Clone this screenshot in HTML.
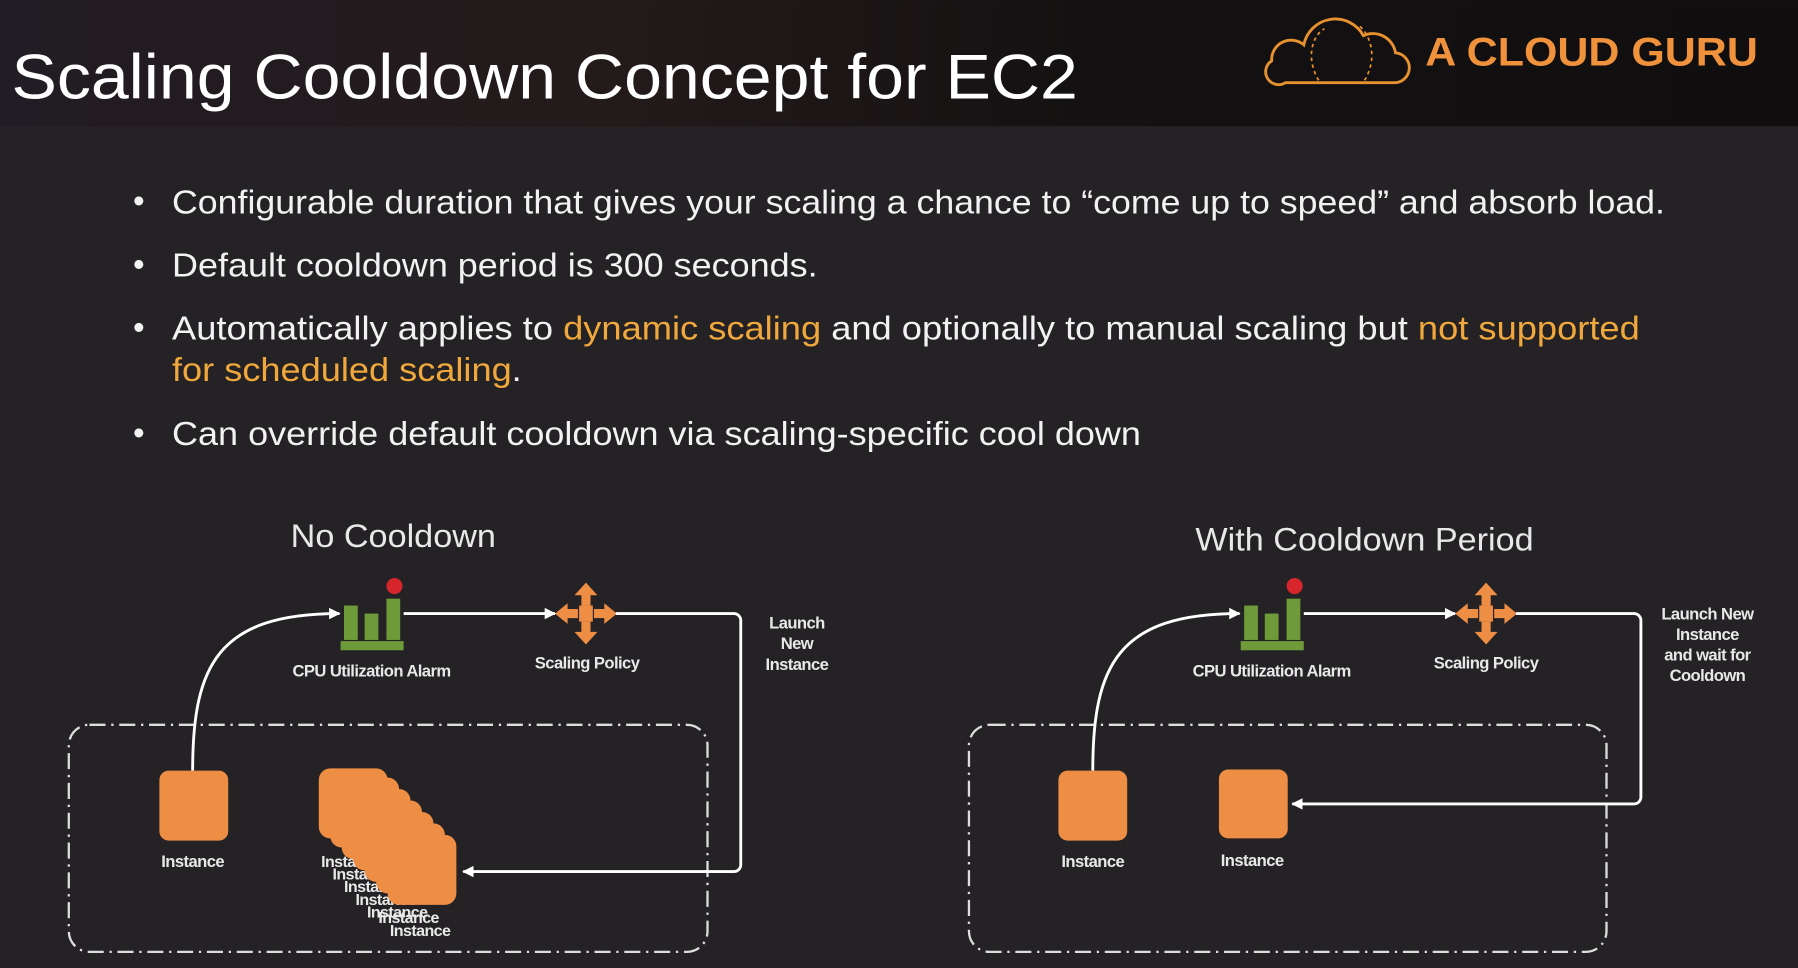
<!DOCTYPE html>
<html><head><meta charset="utf-8"><style>
html,body{margin:0;padding:0;background:#242225;width:1798px;height:968px;overflow:hidden}
svg{display:block}
text{font-family:"Liberation Sans",sans-serif}
</style></head><body>
<svg width="1798" height="968" viewBox="0 0 1568 844" xmlns="http://www.w3.org/2000/svg">
<defs>
<linearGradient id="hg" x1="0" x2="1" y1="0" y2="0">
<stop offset="0" stop-color="#221c24"/><stop offset="0.35" stop-color="#231a1a"/><stop offset="0.6" stop-color="#141112"/><stop offset="1" stop-color="#100e0e"/></linearGradient>
<marker id="ah" markerWidth="10" markerHeight="10" refX="9" refY="5" orient="auto" markerUnits="userSpaceOnUse"><path d="M0,0 L10,5 L0,10 Z" fill="#fff"/></marker>
<g id="alarm">
<rect x="300" y="528" width="12" height="30" fill="#6e9a3a"/>
<rect x="318" y="535" width="12" height="23" fill="#6e9a3a"/>
<rect x="337" y="522" width="12" height="36" fill="#6e9a3a"/>
<rect x="297" y="559" width="55" height="8" fill="#6e9a3a"/>
<circle cx="344" cy="511" r="7" fill="#d7262b"/>
</g>
<g id="policy" fill="#ee8d44">
<path d="M511,508 l10,11 h-6 v9 h-8 v-9 h-6 z"/>
<path d="M511,562 l10,-11 h-6 v-9 h-8 v9 h-6 z"/>
<path d="M484,535 l11,-9 v5 h9 v8 h-9 v5 z"/>
<path d="M538,535 l-11,-9 v5 h-9 v8 h9 v5 z"/>
<rect x="505" y="528" width="12" height="14"/>
</g>
</defs>
<rect width="1568" height="110" fill="url(#hg)"/>
<text x="10" y="86" font-size="55" fill="#fff" textLength="930" lengthAdjust="spacingAndGlyphs">Scaling Cooldown Concept for EC2</text>
<g fill="none" stroke="#e8922f" stroke-width="2.5">
<path d="M1125,72 h90 a13,13 0 0 0 2,-26 a20,20 0 0 0 -28,-15 a28,28 0 0 0 -52,8 a17,17 0 0 0 -28,14 a11,11 0 0 0 12,19 z"/>
<path d="M1150,70 c-12,-20 -5,-40 5,-45 M1190,70 c12,-20 5,-40 -5,-48" stroke-dasharray="3,3" stroke-width="1.5"/>
</g>
<text x="1243" y="57" font-size="35" font-weight="bold" fill="#f0923c" textLength="290" lengthAdjust="spacingAndGlyphs">A CLOUD GURU</text>

<g font-size="29" fill="#f2f2f2">
<text x="116" y="185">•</text><text x="150" y="186" textLength="1302" lengthAdjust="spacingAndGlyphs">Configurable duration that gives your scaling a chance to “come up to speed” and absorb load.</text>
<text x="116" y="240">•</text><text x="150" y="241" textLength="563" lengthAdjust="spacingAndGlyphs">Default cooldown period is 300 seconds.</text>
<text x="116" y="295">•</text><text x="150" y="296" textLength="1280" lengthAdjust="spacingAndGlyphs">Automatically applies to <tspan fill="#f0a83c">dynamic scaling</tspan> and optionally to manual scaling but <tspan fill="#f0a83c">not supported</tspan></text>
<text x="150" y="332" fill="#f0a83c" textLength="305" lengthAdjust="spacingAndGlyphs">for scheduled scaling<tspan fill="#f2f2f2">.</tspan></text>
<text x="116" y="387">•</text><text x="150" y="388" textLength="845" lengthAdjust="spacingAndGlyphs">Can override default cooldown via scaling-specific cool down</text>
</g>

<!-- Left diagram -->
<text x="343" y="477" font-size="28" fill="#e8e8e8" text-anchor="middle" textLength="179" lengthAdjust="spacingAndGlyphs">No Cooldown</text>
<use href="#alarm"/>
<use href="#policy"/>
<g font-size="14.5" font-weight="bold" fill="#e8e8e8" text-anchor="middle" letter-spacing="-0.5">
<text x="324" y="590">CPU Utilization Alarm</text>
<text x="512" y="583">Scaling Policy</text>
<text x="695" y="548">Launch</text><text x="695" y="566">New</text><text x="695" y="584">Instance</text>
<text x="168" y="756">Instance</text>
</g>
<rect x="60" y="632" width="557" height="198" rx="18" fill="none" stroke="#ddd" stroke-width="2" stroke-dasharray="14,5,2,5"/>
<g fill="none" stroke="#fff" stroke-width="2.5">
<path d="M168,672 C168,580 190,535 296,535" marker-end="url(#ah)"/>
<path d="M352,535 H484" marker-end="url(#ah)"/>
<path d="M537,535 H640 a6,6 0 0 1 6,6 V754 a6,6 0 0 1 -6,6 H404" marker-end="url(#ah)"/>
</g>
<rect x="139" y="672" width="60" height="61" rx="8" fill="#ee8d44"/>
<g font-size="14" font-weight="bold" fill="#e8e8e8" letter-spacing="-0.5">
<text x="280" y="756">Instance</text><text x="290" y="767">Instance</text><text x="300" y="778">Instance</text><text x="310" y="789">Instance</text><text x="320" y="800">Instance</text><text x="330" y="805">Instance</text><text x="340" y="816">Instance</text>
</g>
<g fill="#ee8d44">
<rect x="278" y="670" width="60" height="61" rx="10"/>
<rect x="288" y="678" width="60" height="61" rx="10"/>
<rect x="298" y="688" width="60" height="61" rx="10"/>
<rect x="308" y="698" width="60" height="61" rx="10"/>
<rect x="318" y="708" width="60" height="61" rx="10"/>
<rect x="328" y="718" width="60" height="61" rx="10"/>
<rect x="338" y="728" width="60" height="61" rx="10"/>
</g>

<!-- Right diagram -->
<text x="1190" y="480" font-size="28" fill="#e8e8e8" text-anchor="middle" textLength="295" lengthAdjust="spacingAndGlyphs">With Cooldown Period</text>
<use href="#alarm" transform="translate(785,0)"/>
<use href="#policy" transform="translate(785,0)"/>
<g font-size="14.5" font-weight="bold" fill="#e8e8e8" text-anchor="middle" letter-spacing="-0.5">
<text x="1109" y="590">CPU Utilization Alarm</text>
<text x="1296" y="583">Scaling Policy</text>
<text x="1489" y="540">Launch New</text><text x="1489" y="558">Instance</text><text x="1489" y="576">and wait for</text><text x="1489" y="594">Cooldown</text>
<text x="953" y="756">Instance</text>
<text x="1092" y="755">Instance</text>
</g>
<rect x="845" y="632" width="556" height="198" rx="18" fill="none" stroke="#ddd" stroke-width="2" stroke-dasharray="14,5,2,5"/>
<g fill="none" stroke="#fff" stroke-width="2.5">
<path d="M953,672 C953,580 975,535 1081,535" marker-end="url(#ah)"/>
<path d="M1137,535 H1269" marker-end="url(#ah)"/>
<path d="M1322,535 H1425 a6,6 0 0 1 6,6 V695 a6,6 0 0 1 -6,6 H1127" marker-end="url(#ah)"/>
</g>
<rect x="923" y="672" width="60" height="61" rx="8" fill="#ee8d44"/>
<rect x="1063" y="671" width="60" height="60" rx="8" fill="#ee8d44"/>
</svg>
</body></html>
